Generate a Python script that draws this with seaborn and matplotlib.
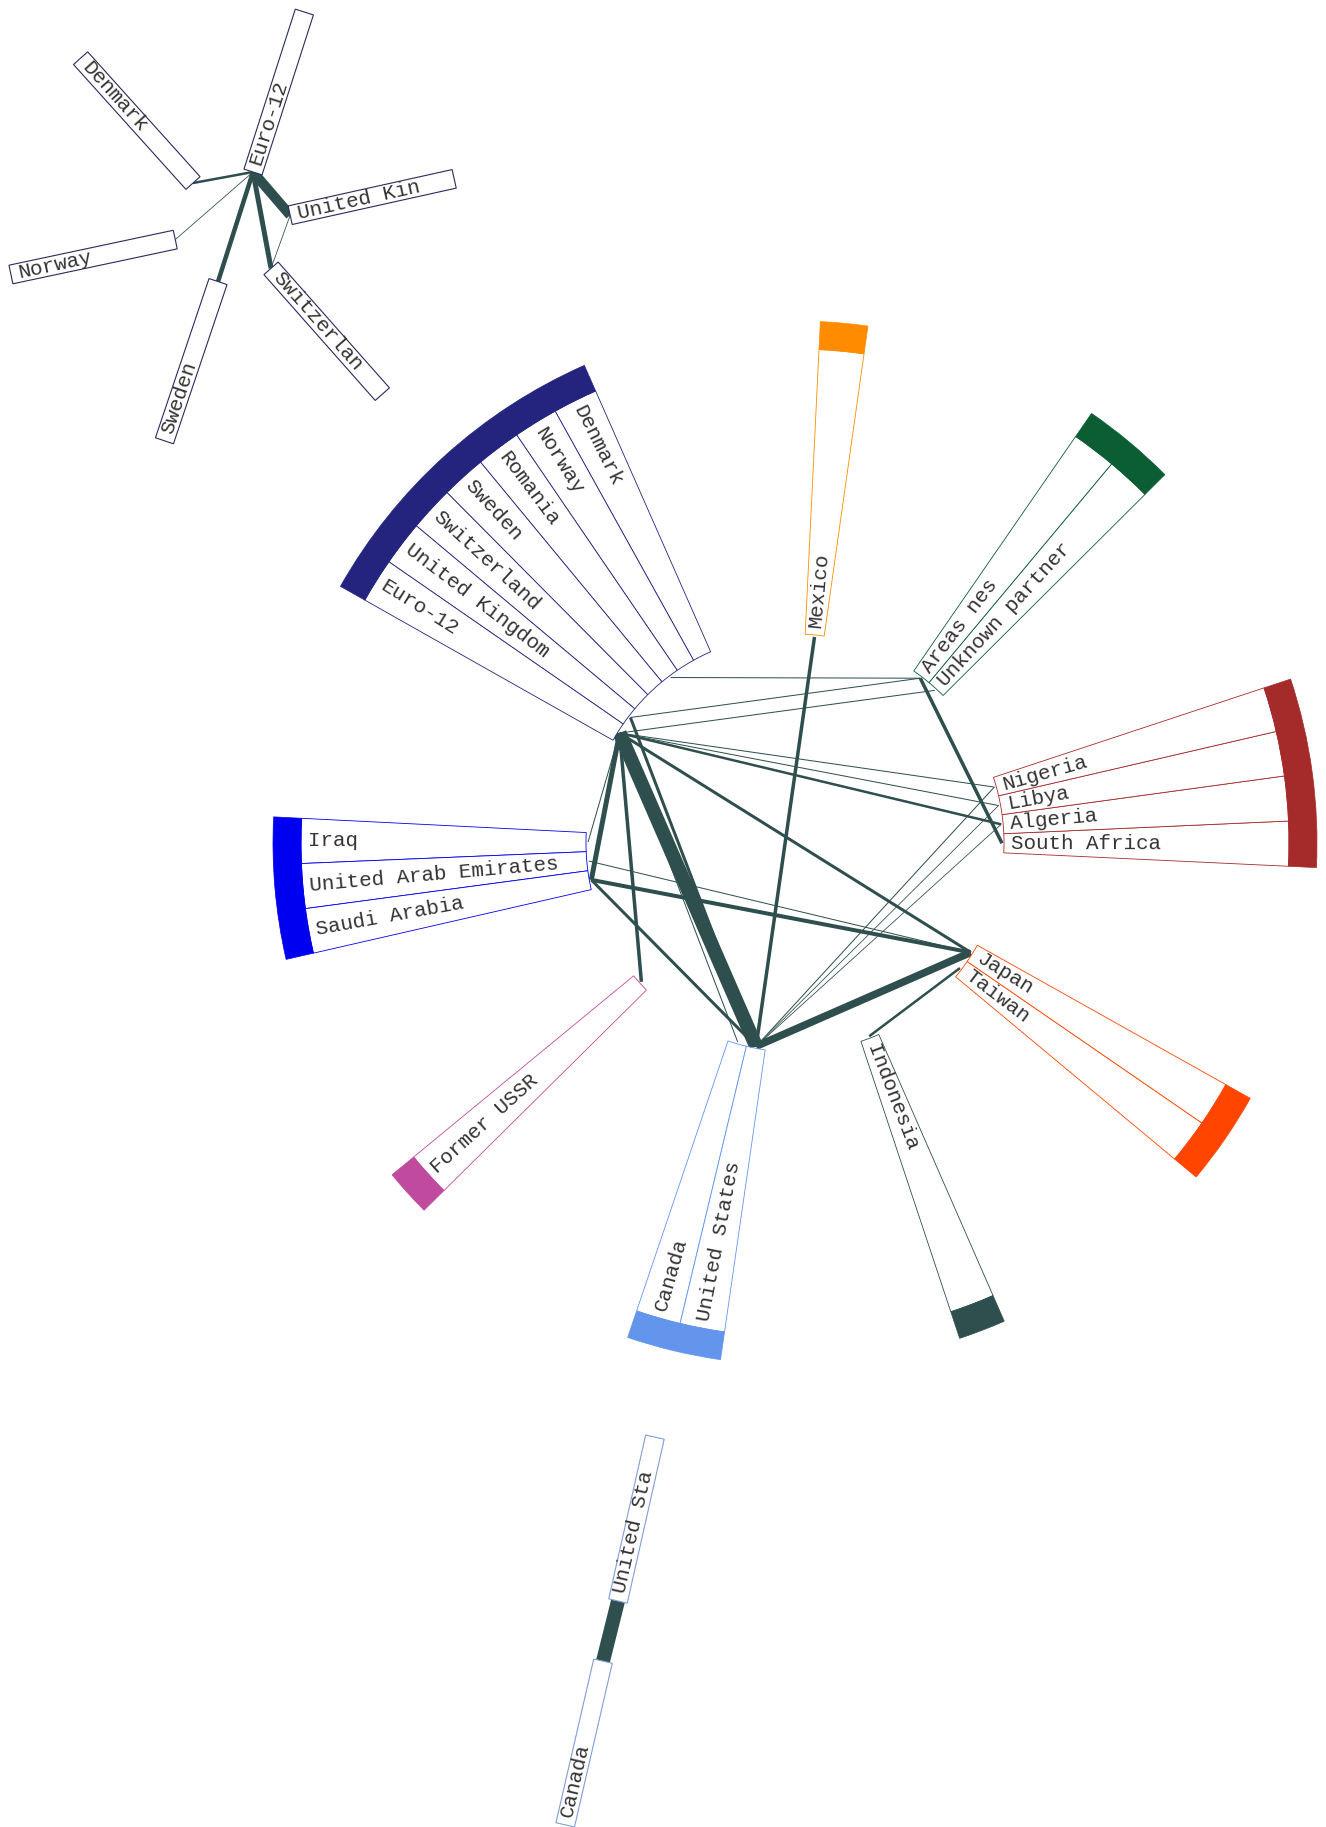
import numpy as np
import pandas as pd
import seaborn as sns
import matplotlib.pyplot as plt
from matplotlib.patches import Wedge, Polygon

# ---------------------------------------------- data ----------------------------------------------
# groups around the ring, counter-clockwise starting at South Africa
group_members = [
    ["South Africa", "Algeria", "Libya", "Nigeria"],
    ["Unknown partner", "Areas nes"],
    ["Mexico"],
    ["Denmark", "Norway", "Romania", "Sweden", "Switzerland", "United Kingdom", "Euro-12"],
    ["Iraq", "United Arab Emirates", "Saudi Arabia"],
    ["Former USSR"],
    ["Canada", "United States"],
    ["Indonesia"],
    ["Taiwan", "Japan"],
]
group_colors = ["#a52a2a", "#0b5d33", "#ff8c00", "#24247e", "#0000f0",
                "#c04a9e", "#6495ed", "#2f4f4f", "#ff4500"]

# links of the ring chart (width of the flow)
edge_src = ["Euro-12", "United States", "Euro-12", "Saudi Arabia", "Mexico", "Euro-12",
            "Areas nes", "Euro-12", "United Kingdom", "Saudi Arabia", "Euro-12", "Indonesia",
            "Euro-12", "Euro-12", "Romania", "United Kingdom", "Euro-12", "Euro-12",
            "Euro-12", "United Arab Emirates", "Nigeria", "Libya", "Algeria"]
edge_dst = ["United States", "Japan", "Saudi Arabia", "Japan", "United States", "Former USSR",
            "South Africa", "Japan", "United States", "United States", "Algeria", "Taiwan",
            "Nigeria", "Libya", "Areas nes", "Areas nes", "Unknown partner", "Canada",
            "Iraq", "Japan", "United States", "United States", "United States"]
edge_weight = [14, 7.5, 5, 4, 3.5, 3.5,
               3.5, 3, 3, 3, 2.5, 2.5,
               1, 1, 1, 1, 1, 1,
               1, 1, 1, 0.8, 0.8]

# close-up of Euro-12 partners (top left)
euro_hub = "Euro-12"
euro_partners = ["United Kingdom", "Switzerland", "Sweden", "Denmark", "Norway"]
euro_weight = [10, 5, 4.5, 2.5, 0.8]
euro_extra = [("United Kingdom", "Switzerland", 0.8)]

# close-up of United States - Canada (bottom)
us_hub = "United States"
us_partners = ["Canada"]
us_weight = [14]

# --------------------------------------------- layout ---------------------------------------------
W, H = 1326, 1827
CX, CY = 795, H - 843
R_IN, R_BOX, R_BAND, R_NODE = 209, 494, 522, 207
STEP = 5.25
START = -2.7
GAP = (360 - STEP * sum(len(m) for m in group_members)) / len(group_members)
EDGE = "#2f4f4f"
TEXT = "#333333"
FONT = ["Liberation Mono", "DejaVu Sans Mono"]
BOX_L, BOX_W = 168, 19

# (distance from hub, bearing, box direction)
euro_layout = {"Euro-12": (0, 0, 72.2), "United Kingdom": (57, -49.3, 12.5),
               "Switzerland": (98, -79.4, -48.5), "Sweden": (115, 252.3, 251.4),
               "Norway": (103, 221, 192), "Denmark": (61, 190.4, 132)}
euro_hub_xy = (253, H - 172)
us_layout = {"United States": (0, 0, 77.3), "Canada": (62, 256, 257)}
us_hub_xy = (618, H - 1601)


def unit(a):
    return np.array([np.cos(np.radians(a)), np.sin(np.radians(a))])


def label_rot(a):
    rot = a if np.cos(np.radians(a)) > 0 else a + 180
    return (rot + 180) % 360 - 180


sns.set_theme(style="white")
plt.rcParams["font.family"] = FONT

fig = plt.figure(figsize=(W / 100, H / 100), dpi=100)
ax = fig.add_axes([0, 0, 1, 1])

# ring positions
node_xy = {}
cursor = START
for members, color in zip(group_members, group_colors):
    g0 = cursor
    for name in members:
        t1, t2 = cursor, cursor + STEP
        mid = (t1 + t2) / 2
        node_xy[("ring", name)] = np.array([CX, CY]) + R_NODE * unit(mid)
        ax.add_patch(Wedge((CX, CY), R_BOX, t1, t2, width=R_BOX - R_IN, facecolor="white",
                           edgecolor=color, lw=0.6, zorder=2))
        if np.cos(np.radians(mid)) > 0:
            p = np.array([CX, CY]) + (R_IN + 7) * unit(mid)
        else:
            p = np.array([CX, CY]) + (R_BOX - 7) * unit(mid)
        ax.text(p[0], p[1], name, rotation=label_rot(mid), rotation_mode="anchor",
                ha="left", va="center", fontsize=15, color=TEXT, zorder=4)
        cursor = t2
    ax.add_patch(Wedge((CX, CY), R_BAND, g0, cursor, width=R_BAND - R_BOX,
                       facecolor=color, edgecolor=color, lw=0.5, zorder=3))
    cursor += GAP


def draw_closeup(tag, hub_xy, layout, color):
    for name, (dist, bearing, ang) in layout.items():
        anchor = np.array(hub_xy) + dist * unit(bearing)
        node_xy[(tag, name)] = anchor
        d, n = unit(ang), unit(ang + 90)
        pts = [anchor - n * BOX_W / 2, anchor + d * BOX_L - n * BOX_W / 2,
               anchor + d * BOX_L + n * BOX_W / 2, anchor + n * BOX_W / 2]
        ax.add_patch(Polygon(pts, closed=True, facecolor="white", edgecolor=color,
                             lw=0.8, zorder=2))
        p = anchor + d * 8 if np.cos(np.radians(ang)) > 0 else anchor + d * (BOX_L - 8)
        ax.text(p[0], p[1], name[:10], rotation=label_rot(ang), rotation_mode="anchor",
                ha="left", va="center", fontsize=15, color=TEXT, zorder=4)


draw_closeup("euro", euro_hub_xy, euro_layout, "#2a2a5e")
draw_closeup("us", us_hub_xy, us_layout, "#7f9fd8")

# all links in one frame
links = [("ring", s, "ring", t, w) for s, t, w in zip(edge_src, edge_dst, edge_weight)]
links += [("euro", euro_hub, "euro", t, w) for t, w in zip(euro_partners, euro_weight)]
links += [("euro", s, "euro", t, w) for s, t, w in euro_extra]
links += [("us", us_hub, "us", t, w) for t, w in zip(us_partners, us_weight)]

rows = []
for i, (ts, s, tt, t, w) in enumerate(links):
    for key in [(ts, s), (tt, t)]:
        x, y = node_xy[key]
        rows.append({"edge": i, "x": x, "y": y, "weight": w})
df = pd.DataFrame(rows)

wmin, wmax = df["weight"].min(), df["weight"].max()
sns.lineplot(data=df, x="x", y="y", units="edge", estimator=None, sort=False,
             size="weight", sizes=(wmin * 0.72, wmax * 0.72), color=EDGE,
             legend=False, ax=ax, zorder=1, solid_capstyle="butt")

ax.set_xlim(0, W)
ax.set_ylim(0, H)
ax.set_aspect("equal")
ax.axis("off")
fig.savefig("out.png", dpi=100, facecolor="white")
